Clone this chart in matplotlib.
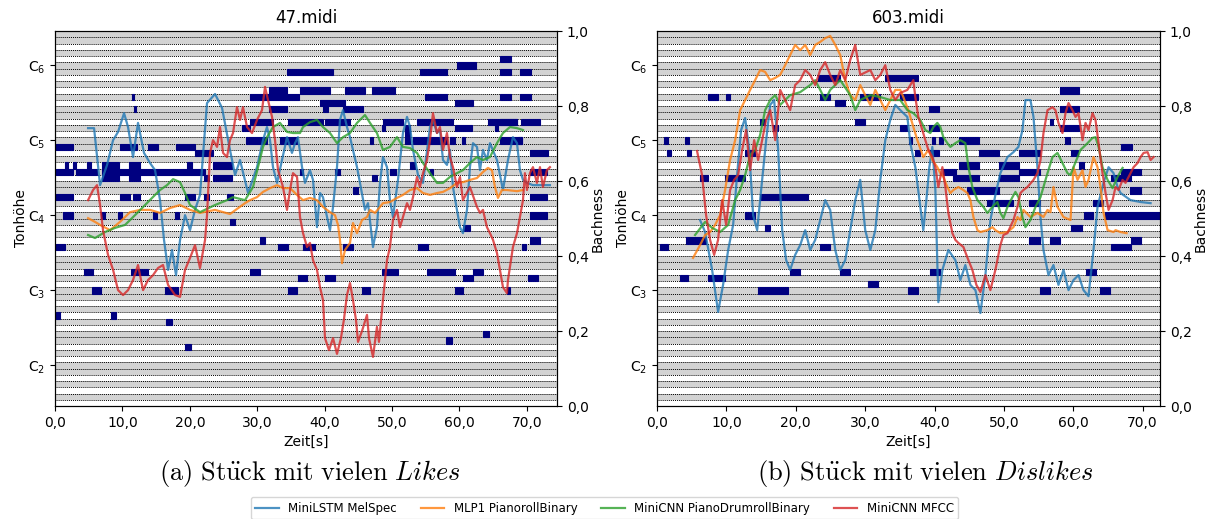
import numpy as np
import matplotlib as mpl
mpl.use("Agg")
import matplotlib.pyplot as plt
from matplotlib.ticker import FuncFormatter

# ---------------- 47.midi (Likes) ----------------
a_blue_t = [4.9, 5.79, 6.68, 7.72, 8.61, 9.35, 10.24, 10.83, 11.57, 12.31, 13.2, 14.09, 14.84, 15.58, 16.17, 16.77,
            17.36, 17.95, 18.55, 19.29, 20.03, 20.77, 21.51, 22.55, 23.74, 24.78, 25.96, 26.71, 27.45, 28.64, 29.97,
            30.86, 31.45, 31.9, 32.34, 32.94, 33.68, 34.42, 35.16, 35.61, 36.05, 36.65, 37.09, 37.83, 38.28, 38.87,
            39.32, 39.76, 40.36, 40.8, 41.25, 41.84, 42.28, 42.73, 43.32, 43.77, 44.21, 44.81, 45.25, 45.99, 46.44,
            47.18, 47.77, 48.22, 48.66, 49.26, 49.7, 50.15, 50.89, 51.63, 52.23, 52.67, 53.12, 53.86, 54.6, 55.64,
            56.08, 56.68, 57.12, 57.57, 58.16, 58.61, 59.05, 59.64, 60.09, 60.53, 61.13, 61.57, 62.02, 62.61, 63.06,
            63.5, 64.09, 64.54, 65.58, 66.47, 67.21, 67.95, 68.55, 68.99, 69.44, 70.03, 70.92, 73.44]
a_blue_v = [0.741, 0.741, 0.589, 0.643, 0.709, 0.731, 0.781, 0.744, 0.664, 0.755, 0.675, 0.648, 0.629, 0.549, 0.443,
            0.363, 0.416, 0.349, 0.443, 0.509, 0.469, 0.523, 0.563, 0.808, 0.832, 0.795, 0.683, 0.616, 0.656, 0.568,
            0.637, 0.709, 0.744, 0.709, 0.637, 0.595, 0.656, 0.717, 0.675, 0.701, 0.717, 0.637, 0.595, 0.629, 0.603,
            0.477, 0.568, 0.557, 0.504, 0.469, 0.531, 0.637, 0.763, 0.789, 0.744, 0.717, 0.683, 0.637, 0.595, 0.523,
            0.541, 0.424, 0.477, 0.595, 0.664, 0.637, 0.549, 0.504, 0.603, 0.728, 0.771, 0.744, 0.683, 0.616, 0.595,
            0.744, 0.763, 0.728, 0.736, 0.656, 0.643, 0.683, 0.584, 0.523, 0.477, 0.461, 0.523, 0.637, 0.701, 0.691,
            0.629, 0.683, 0.656, 0.701, 0.656, 0.576, 0.656, 0.717, 0.701, 0.629, 0.603, 0.595, 0.589, 0.589]

a_orange_t = [4.9, 5.93, 6.68, 8.16, 9.64, 11.13, 12.61, 14.09, 15.58, 17.06, 18.55, 20.03, 21.51, 23.74, 25.96,
              28.19, 28.93, 29.97, 30.86, 31.9, 32.94, 33.83, 34.87, 35.91, 36.8, 37.83, 38.87, 39.76, 40.8, 41.54,
              41.99, 42.28, 42.58, 43.03, 43.77, 44.21, 44.81, 45.55, 46.29, 46.74, 47.48, 48.22, 48.66, 49.7, 50.74,
              51.63, 52.67, 53.71, 54.6, 55.64, 56.68, 57.57, 58.61, 59.64, 60.53, 61.57, 62.61, 63.5, 64.24, 64.84,
              65.28, 65.73, 66.32, 67.06, 68.55, 69.44]
a_orange_v = [0.501, 0.491, 0.483, 0.469, 0.491, 0.517, 0.523, 0.523, 0.515, 0.528, 0.536, 0.523, 0.515, 0.523,
              0.512, 0.541, 0.549, 0.557, 0.571, 0.581, 0.589, 0.581, 0.581, 0.563, 0.549, 0.555, 0.549, 0.531,
              0.517, 0.509, 0.483, 0.443, 0.381, 0.416, 0.435, 0.488, 0.461, 0.496, 0.504, 0.523, 0.515, 0.531,
              0.541, 0.544, 0.555, 0.563, 0.576, 0.581, 0.568, 0.563, 0.568, 0.571, 0.581, 0.595, 0.597, 0.603,
              0.608, 0.624, 0.635, 0.629, 0.584, 0.555, 0.576, 0.576, 0.573, 0.576]

a_green_t = [4.9, 5.93, 7.42, 8.9, 10.39, 11.87, 13.35, 14.84, 15.58, 16.62, 17.51, 18.55, 19.29, 20.03, 21.51, 23.74,
             25.52, 26.41, 28.19, 29.38, 30.12, 30.86, 31.45, 32.34, 33.38, 34.42, 35.31, 36.35, 36.8, 37.83, 38.87,
             39.76, 40.8, 41.84, 42.73, 43.77, 44.81, 45.99, 46.74, 47.77, 48.66, 49.7, 50.74, 51.63, 52.67, 53.71,
             54.6, 55.64, 56.68, 57.57, 58.61, 59.64, 60.53, 61.57, 62.61, 63.5, 64.54, 65.58, 66.47, 67.51, 68.55,
             69.44]
a_green_v = [0.456, 0.448, 0.464, 0.475, 0.483, 0.509, 0.536, 0.563, 0.576, 0.589, 0.605, 0.597, 0.568, 0.536, 0.517,
             0.536, 0.549, 0.557, 0.549, 0.584, 0.637, 0.691, 0.717, 0.744, 0.755, 0.731, 0.728, 0.728, 0.744, 0.757,
             0.763, 0.744, 0.728, 0.701, 0.717, 0.728, 0.755, 0.776, 0.755, 0.728, 0.683, 0.691, 0.717, 0.691, 0.688,
             0.675, 0.648, 0.621, 0.595, 0.595, 0.611, 0.621, 0.629, 0.648, 0.664, 0.656, 0.664, 0.701, 0.728, 0.744,
             0.741, 0.736]

a_red_t = [4.9, 5.64, 6.23, 6.68, 7.12, 7.86, 8.61, 9.35, 10.09, 10.83, 11.57, 12.31, 13.06, 13.8, 14.54, 15.28, 16.02,
           16.77, 17.8, 18.55, 19.29, 20.03, 20.77, 21.51, 22.26, 22.55, 23.0, 23.44, 24.04, 24.48, 24.93, 25.52, 25.96,
           26.41, 27.0, 27.45, 27.89, 28.49, 29.23, 29.97, 30.71, 31.16, 31.6, 32.2, 32.64, 33.09, 33.83, 34.42, 34.87,
           35.31, 35.91, 36.35, 36.8, 37.39, 37.83, 38.28, 38.87, 39.32, 39.76, 40.06, 40.65, 41.25, 41.84, 42.43,
           42.88, 43.32, 43.77, 44.21, 44.66, 44.96, 45.55, 46.29, 46.59, 47.18, 47.77, 48.07, 48.66, 49.26, 49.7,
           50.15, 50.74, 51.19, 51.63, 52.23, 52.67, 53.12, 53.71, 54.15, 54.6, 55.19, 55.64, 56.08, 56.68, 57.12,
           57.57, 58.16, 58.61, 59.05, 59.64, 60.09, 60.53, 61.57, 62.61, 63.06, 63.5, 64.09, 64.54, 64.99, 65.58,
           66.02, 66.47, 67.06, 67.21, 67.51, 67.95, 68.55, 68.99, 69.44, 69.73, 70.03, 70.47, 70.92, 71.51, 71.96,
           72.4, 72.99, 73.44]
a_red_v = [0.549, 0.576, 0.589, 0.536, 0.469, 0.403, 0.363, 0.309, 0.296, 0.309, 0.336, 0.376, 0.309, 0.336, 0.349,
           0.368, 0.376, 0.323, 0.296, 0.291, 0.363, 0.395, 0.429, 0.368, 0.443, 0.509, 0.675, 0.709, 0.691, 0.744,
           0.675, 0.664, 0.709, 0.728, 0.797, 0.763, 0.797, 0.744, 0.728, 0.763, 0.789, 0.851, 0.816, 0.771, 0.709,
           0.629, 0.584, 0.523, 0.576, 0.621, 0.611, 0.504, 0.461, 0.424, 0.435, 0.389, 0.363, 0.317, 0.283, 0.181,
           0.149, 0.181, 0.139, 0.181, 0.232, 0.296, 0.328, 0.283, 0.229, 0.171, 0.2, 0.243, 0.181, 0.131, 0.211,
           0.171, 0.283, 0.389, 0.424, 0.496, 0.523, 0.477, 0.504, 0.541, 0.523, 0.557, 0.611, 0.584, 0.621, 0.656,
           0.709, 0.781, 0.728, 0.744, 0.683, 0.728, 0.664, 0.637, 0.584, 0.611, 0.549, 0.584, 0.531, 0.515, 0.523,
           0.477, 0.461, 0.443, 0.408, 0.363, 0.317, 0.301, 0.336, 0.371, 0.424, 0.461, 0.504, 0.549, 0.621, 0.576,
           0.621, 0.637, 0.595, 0.637, 0.584, 0.629, 0.637]

a_note_start = [34.42, 54.15, 59.64, 66.02, 66.02, 68.99, 66.02, 68.99, 66.02, 69.14, 66.02, 70.47, 70.47, 70.47,
                70.47, 70.47, 70.18, 69.29, 31.75, 28.93, 31.75, 39.76, 42.73, 59.35, 28.93, 34.57, 40.06, 48.66,
                53.71, 64.24, 27.74, 59.35, 48.52, 65.28, 28.34, 33.38, 46.74, 51.93, 51.93, 51.93, 53.12, 58.61,
                60.39, 68.69, 0.15, 9.64, 13.8, 17.95, 20.77, 1.48, 2.67, 4.75, 6.97, 10.98, 19.58, 23.44, 0.15, 3.12,
                6.97, 12.31, 6.97, 10.98, 22.11, 23.44, 0.15, 9.64, 11.57, 19.29, 22.11, 25.52, 36.35, 41.54, 49.7,
                52.67, 55.64, 44.21, 47.03, 60.53, 30.42, 33.09, 36.8, 42.73, 53.86, 28.93, 36.05, 40.06, 48.52,
                55.19, 60.53, 62.02, 34.57, 45.55, 59.35, 67.06, 0.15, 8.31, 16.47, 19.29, 58.01, 63.5, 1.19, 0.15,
                4.3, 5.49, 11.28, 16.32, 36.35, 43.03, 47.03, 54.9, 39.32, 11.42, 11.72, 6.82, 9.35, 14.54, 17.8, 25.96]
a_note_dur = [6.82, 4.0, 2.82, 1.63, 1.63, 1.63, 1.63, 1.63, 2.52, 2.82, 3.26, 2.67, 2.52, 2.52, 2.52, 1.48, 1.48,
              0.59, 2.67, 7.27, 2.67, 0.74, 2.97, 2.67, 3.41, 5.19, 3.71, 2.97, 5.34, 4.3, 1.19, 2.52, 0.45, 0.45,
              3.12, 2.52, 0.45, 0.74, 0.74, 0.74, 5.04, 0.74, 0.45, 0.59, 2.52, 2.52, 1.48, 2.82, 2.67, 0.45, 0.45,
              0.59, 2.52, 1.63, 0.74, 2.82, 2.52, 3.12, 5.2, 9.9, 2.52, 1.63, 0.74, 2.82, 2.52, 1.48, 1.04, 1.48,
              0.74, 0.89, 0.45, 0.74, 0.89, 0.74, 0.45, 0.74, 0.74, 1.04, 0.74, 1.48, 1.78, 1.48, 1.48, 1.48, 1.34,
              1.48, 2.37, 4.15, 1.48, 1.48, 1.34, 1.19, 1.19, 0.45, 0.59, 0.74, 0.89, 0.89, 0.89, 0.89, 1.48, 1.34,
              1.34, 1.34, 2.52, 1.93, 4.45, 2.97, 3.41, 3.26, 3.71, 0.3, 0.3, 0.6, 0.6, 0.6, 0.6, 0.7]
a_note_pitch = [83, 83, 84, 85, 83, 83, 79, 79, 75, 75, 72, 70, 67, 63, 60, 56, 50, 55, 80, 79, 77, 77, 77, 78, 75,
                75, 75, 75, 75, 75, 74, 74, 74, 74, 72, 72, 72, 73, 74, 72, 72, 72, 72, 72, 71, 71, 71, 71, 70, 68, 68,
                68, 68, 68, 68, 68, 67, 67, 67, 67, 66, 66, 66, 66, 63, 63, 63, 63, 63, 63, 67, 67, 67, 68, 67, 64, 66,
                58, 56, 55, 55, 55, 55, 51, 50, 50, 51, 51, 50, 51, 48, 48, 48, 48, 44, 44, 43, 39, 40, 41, 60, 55, 51,
                48, 51, 48, 80, 80, 80, 79, 78, 79, 77, 60, 60, 60, 60, 59]

# ---------------- 603.midi (Dislikes) ----------------
b_blue_t = [6.2, 6.93, 7.94, 8.8, 9.52, 10.25, 10.97, 11.54, 12.12, 12.7, 13.28, 13.85, 14.43, 15.15, 15.73, 16.31,
            16.88, 17.46, 18.04, 18.61, 19.19, 19.91, 20.63, 21.36, 22.08, 22.8, 23.52, 24.24, 24.96, 25.69, 26.41,
            27.13, 27.85, 28.57, 29.29, 30.01, 30.74, 31.46, 32.18, 32.9, 33.62, 34.34, 35.06, 36.08, 36.51, 37.23,
            37.95, 38.38, 38.82, 39.25, 39.68, 40.12, 40.55, 41.13, 41.99, 43.0, 43.72, 44.44, 45.17, 45.89, 46.61,
            47.33, 48.05, 48.77, 49.49, 50.51, 51.37, 52.09, 52.67, 53.1, 53.82, 54.26, 54.83, 55.27, 55.7, 56.42,
            57.14, 57.86, 58.59, 59.31, 60.03, 60.75, 61.47, 62.19, 62.91, 63.49, 64.36, 65.08, 65.8, 66.38, 66.81,
            68.25, 69.7, 71.14]
b_blue_v = [0.496, 0.464, 0.363, 0.251, 0.323, 0.416, 0.483, 0.616, 0.736, 0.768, 0.683, 0.509, 0.469, 0.603, 0.709,
            0.803, 0.816, 0.683, 0.469, 0.389, 0.363, 0.403, 0.429, 0.469, 0.416, 0.443, 0.496, 0.549, 0.523, 0.416,
            0.363, 0.389, 0.469, 0.549, 0.603, 0.469, 0.416, 0.469, 0.603, 0.709, 0.763, 0.803, 0.789, 0.771, 0.701,
            0.637, 0.531, 0.469, 0.549, 0.637, 0.691, 0.576, 0.277, 0.363, 0.416, 0.389, 0.336, 0.376, 0.323, 0.309,
            0.248, 0.349, 0.496, 0.563, 0.621, 0.664, 0.677, 0.691, 0.736, 0.816, 0.816, 0.771, 0.637, 0.504, 0.416,
            0.349, 0.376, 0.323, 0.363, 0.309, 0.336, 0.349, 0.309, 0.293, 0.416, 0.531, 0.595, 0.637, 0.621, 0.584,
            0.568, 0.549, 0.544, 0.541]

b_orange_t = [5.19, 6.2, 6.93, 7.65, 8.37, 9.09, 9.81, 10.53, 11.26, 11.98, 12.7, 13.42, 14.14, 14.86, 15.58, 16.31,
              17.03, 17.75, 18.47, 19.19, 19.91, 20.63, 21.36, 22.08, 22.8, 23.52, 24.24, 24.96, 25.69, 26.41, 27.13,
              27.85, 28.57, 29.29, 30.01, 30.74, 31.46, 32.18, 32.9, 33.62, 34.34, 35.06, 35.5, 36.22, 37.52, 38.38,
              39.11, 39.68, 40.4, 40.84, 41.27, 41.85, 42.28, 42.71, 43.43, 44.16, 44.73, 45.17, 45.6, 46.18, 46.61,
              47.62, 48.34, 48.77, 49.49, 50.51, 51.37, 51.95, 52.38, 52.81, 53.82, 54.83, 55.7, 56.28, 56.71, 57.14,
              57.72, 58.59, 59.6, 60.03, 60.61, 61.33, 61.76, 62.19, 62.91, 63.49, 63.92, 64.36, 64.94, 65.8, 66.09,
              66.81, 67.68]
b_orange_v = [0.395, 0.429, 0.456, 0.464, 0.483, 0.509, 0.576, 0.656, 0.709, 0.789, 0.816, 0.843, 0.869, 0.896,
              0.891, 0.869, 0.875, 0.883, 0.909, 0.936, 0.963, 0.949, 0.963, 0.936, 0.963, 0.971, 0.981, 0.987,
              0.963, 0.936, 0.869, 0.829, 0.816, 0.856, 0.829, 0.803, 0.843, 0.816, 0.789, 0.816, 0.843, 0.843,
              0.824, 0.789, 0.709, 0.664, 0.683, 0.656, 0.637, 0.621, 0.611, 0.584, 0.568, 0.576, 0.584, 0.576,
              0.568, 0.549, 0.504, 0.469, 0.464, 0.469, 0.477, 0.469, 0.461, 0.464, 0.477, 0.504, 0.496, 0.523,
              0.504, 0.515, 0.504, 0.523, 0.517, 0.584, 0.531, 0.504, 0.496, 0.637, 0.603, 0.629, 0.584, 0.603,
              0.664, 0.637, 0.584, 0.515, 0.469, 0.464, 0.469, 0.464, 0.461]

b_green_t = [5.48, 6.93, 7.94, 9.09, 10.25, 11.26, 11.98, 12.7, 13.42, 14.14, 14.86, 15.58, 16.31, 17.03, 17.75, 18.47,
             19.19, 20.63, 22.08, 22.8, 23.52, 24.24, 24.96, 26.41, 27.85, 28.57, 29.29, 30.74, 32.18, 33.62, 35.06,
             36.08, 36.94, 37.95, 38.67, 39.39, 39.83, 40.4, 40.84, 41.27, 41.85, 42.28, 43.0, 43.72, 44.44, 44.88,
             45.45, 46.18, 47.04, 47.62, 48.34, 49.06, 49.49, 49.93, 50.51, 51.23, 51.66, 52.09, 52.67, 53.1, 53.82,
             54.55, 55.27, 56.28, 57.0, 57.72, 58.44, 59.16, 59.6, 60.03, 61.04, 62.05, 62.77, 63.2, 63.64, 64.21,
             64.94, 65.66, 66.38, 67.1]
b_green_v = [0.456, 0.491, 0.475, 0.464, 0.483, 0.549, 0.576, 0.616, 0.669, 0.683, 0.723, 0.789, 0.816, 0.829, 0.803,
             0.816, 0.829, 0.837, 0.856, 0.869, 0.843, 0.816, 0.843, 0.869, 0.829, 0.789, 0.816, 0.829, 0.824, 0.816,
             0.816, 0.789, 0.781, 0.763, 0.736, 0.728, 0.744, 0.755, 0.744, 0.717, 0.701, 0.691, 0.701, 0.709, 0.701,
             0.637, 0.584, 0.549, 0.531, 0.515, 0.531, 0.544, 0.515, 0.501, 0.531, 0.557, 0.571, 0.557, 0.504, 0.477,
             0.496, 0.531, 0.557, 0.621, 0.664, 0.675, 0.648, 0.621, 0.616, 0.637, 0.683, 0.701, 0.715, 0.717, 0.691,
             0.637, 0.603, 0.581, 0.611, 0.635]

b_red_t = [5.77, 6.49, 7.07, 7.65, 8.23, 8.8, 9.38, 9.96, 10.53, 11.11, 11.69, 12.27, 12.84, 13.42, 14.0, 14.57, 15.15,
           15.73, 16.31, 17.03, 17.75, 18.47, 19.19, 19.91, 20.63, 21.36, 22.08, 22.8, 23.52, 24.24, 24.96, 25.69,
           26.41, 27.13, 27.85, 28.57, 29.29, 30.74, 31.46, 32.18, 32.9, 33.62, 34.34, 35.06, 36.08, 36.94, 37.23,
           37.66, 38.24, 38.67, 39.11, 39.68, 40.12, 40.55, 41.13, 41.56, 41.99, 42.57, 43.0, 43.43, 44.16, 44.88,
           45.45, 46.03, 46.61, 47.33, 48.05, 48.77, 49.49, 49.93, 50.51, 51.37, 51.95, 52.38, 52.81, 53.39, 54.26,
           54.83, 55.27, 55.7, 56.28, 57.0, 57.43, 57.86, 58.44, 58.87, 59.31, 59.88, 60.32, 60.75, 61.33, 61.76,
           62.19, 62.77, 63.2, 63.64, 64.21, 64.65, 65.08, 65.66, 66.09, 66.52, 67.1, 67.53, 68.25, 68.69, 69.26,
           69.7, 70.13, 70.71, 71.14, 71.57]
b_red_v = [0.68, 0.616, 0.509, 0.443, 0.403, 0.443, 0.549, 0.483, 0.576, 0.603, 0.616, 0.683, 0.736, 0.629, 0.709,
           0.656, 0.709, 0.763, 0.789, 0.709, 0.843, 0.816, 0.789, 0.856, 0.869, 0.896, 0.883, 0.856, 0.896, 0.917,
           0.883, 0.856, 0.896, 0.869, 0.923, 0.963, 0.883, 0.896, 0.869, 0.883, 0.909, 0.843, 0.816, 0.835, 0.843,
           0.869, 0.824, 0.771, 0.736, 0.709, 0.683, 0.664, 0.637, 0.584, 0.637, 0.584, 0.515, 0.461, 0.443, 0.435,
           0.424, 0.389, 0.363, 0.323, 0.304, 0.349, 0.309, 0.363, 0.429, 0.456, 0.461, 0.496, 0.531, 0.568, 0.576,
           0.584, 0.603, 0.621, 0.656, 0.728, 0.789, 0.797, 0.789, 0.755, 0.728, 0.781, 0.808, 0.789, 0.771, 0.781,
           0.709, 0.755, 0.736, 0.781, 0.763, 0.701, 0.621, 0.568, 0.523, 0.549, 0.584, 0.576, 0.603, 0.595, 0.621,
           0.637, 0.648, 0.664, 0.675, 0.677, 0.656, 0.664]

b_note_start = [1.01, 4.04, 1.44, 4.33, 7.36, 9.96, 12.7, 14.86, 16.74, 23.23, 32.9, 23.52, 29.29, 35.06, 28.57,
                9.81, 6.2, 14.86, 19.19, 12.7, 15.58, 4.18, 0.43, 3.32, 7.36, 14.57, 19.19, 23.52, 26.41, 30.45,
                36.22, 39.39, 55.27, 61.76, 63.92, 39.25, 35.06, 39.25, 36.36, 39.68, 40.69, 43.58, 37.23, 39.39,
                46.46, 52.24, 59.6, 66.81, 43.58, 49.35, 60.89, 41.27, 52.24, 66.81, 42.71, 49.35, 65.37, 44.73,
                46.46, 47.62, 53.68, 62.91, 68.11, 61.47, 64.5, 59.6, 53.68, 56.71, 68.25, 65.37, 58.15, 58.15, 58.15,
                56.71, 58.87, 25.69]
b_note_dur = [0.58, 0.58, 0.58, 0.58, 1.44, 0.58, 1.44, 0.72, 0.72, 3.17, 4.76, 1.44, 2.89, 2.6, 1.44, 2.89, 1.15,
              4.33, 2.6, 1.44, 0.72, 2.89, 1.15, 1.15, 2.45, 4.33, 1.44, 1.44, 1.44, 1.44, 1.44, 1.44, 1.44, 1.44,
              1.44, 1.44, 1.01, 1.44, 0.43, 0.43, 0.58, 2.89, 0.72, 1.3, 2.89, 2.89, 1.01, 1.59, 2.89, 2.89, 0.58,
              1.88, 2.89, 2.89, 3.75, 2.89, 2.89, 1.73, 2.89, 3.75, 1.59, 1.3, 1.59, 1.44, 7.79, 1.59, 1.59, 1.44,
              1.44, 2.89, 2.74, 2.74, 2.74, 0.43, 0.72, 1.44]
b_note_pitch = [72, 72, 70, 70, 79, 79, 70, 75, 74, 82, 82, 79, 79, 79, 75, 66, 66, 63, 63, 60, 58, 56, 55, 50, 50,
                48, 51, 55, 51, 49, 48, 51, 48, 51, 48, 77, 74, 74, 72, 72, 72, 72, 70, 70, 70, 70, 70, 71, 68, 68,
                68, 67, 67, 67, 66, 66, 66, 64, 64, 62, 62, 62, 64, 60, 60, 58, 56, 56, 56, 55, 80, 77, 74, 75, 72, 78]

a_xmax = 74.5
b_xmax = 72.5
pitch_lo, pitch_hi = 30, 89
white_keys = [0, 2, 4, 5, 7, 9, 11]
c_pitches = [36, 48, 60, 72, 84]
c_labels = ["C$_2$", "C$_3$", "C$_4$", "C$_5$", "C$_6$"]

series_names = ["MiniLSTM MelSpec", "MLP1 PianorollBinary", "MiniCNN PianoDrumrollBinary", "MiniCNN MFCC"]
series_colors = ["tab:blue", "tab:orange", "tab:green", "tab:red"]


def comma(v, pos):
    return f"{v:.1f}".replace(".", ",")


def draw_panel(rect, title, xmax, starts, durs, pitches, series):
    ax = fig.add_axes(rect)
    for p in range(pitch_lo, pitch_hi + 1):
        if p % 12 in white_keys:
            ax.axhspan(p - 0.5, p + 0.5, color="#d3d3d3", lw=0, zorder=0)
    ax.hlines(np.arange(pitch_lo - 0.5, pitch_hi + 1), 0, xmax, colors="k",
              linestyles=(0, (1, 1)), lw=0.7, zorder=1)
    ax.barh(pitches, durs, left=starts, height=1.0, color="navy",
            edgecolor="navy", lw=0.8, zorder=2)
    ax.set_xlim(0, xmax)
    ax.set_ylim(pitch_lo - 0.5, pitch_hi + 0.5)
    ax.set_yticks(c_pitches)
    ax.set_yticklabels(c_labels)
    ax.xaxis.set_major_formatter(FuncFormatter(comma))
    ax.set_xlabel("Zeit[s]")
    ax.set_ylabel("Tonhöhe", labelpad=0)
    ax.set_title(title)

    tw = ax.twinx()
    handles = []
    for (t, v), name, col in zip(series, series_names, series_colors):
        h, = tw.plot(t, v, color=col, lw=1.6, alpha=0.8, label=name)
        handles.append(h)
    tw.set_ylim(0, 1)
    tw.yaxis.set_major_formatter(FuncFormatter(comma))
    tw.set_ylabel("Bachness", labelpad=1)
    return handles


plt.rcParams["font.size"] = 10
fig = plt.figure(figsize=(12.1, 5.19), dpi=100)

handles = draw_panel([0.0455, 0.2177, 0.4149, 0.7225], "47.midi", a_xmax,
                     a_note_start, a_note_dur, a_note_pitch,
                     [(a_blue_t, a_blue_v), (a_orange_t, a_orange_v),
                      (a_green_t, a_green_v), (a_red_t, a_red_v)])
draw_panel([0.543, 0.2177, 0.4157, 0.7225], "603.midi", b_xmax,
           b_note_start, b_note_dur, b_note_pitch,
           [(b_blue_t, b_blue_v), (b_orange_t, b_orange_v),
            (b_green_t, b_green_v), (b_red_t, b_red_v)])

fig.text(0.256, 0.087, r"$\mathrm{(a)\ St\ddot{u}ck\ mit\ vielen\ }\mathit{Likes}$",
         ha="center", va="center", fontsize=19, math_fontfamily="cm")
fig.text(0.765, 0.087, r"$\mathrm{(b)\ St\ddot{u}ck\ mit\ vielen\ }\mathit{Dislikes}$",
         ha="center", va="center", fontsize=19, math_fontfamily="cm")

fig.legend(handles, series_names, loc="upper center", bbox_to_anchor=(0.4996, 0.0424),
           ncol=4, fontsize=8.5, frameon=True, borderaxespad=0.0)

fig.savefig("out.png", dpi=100)
